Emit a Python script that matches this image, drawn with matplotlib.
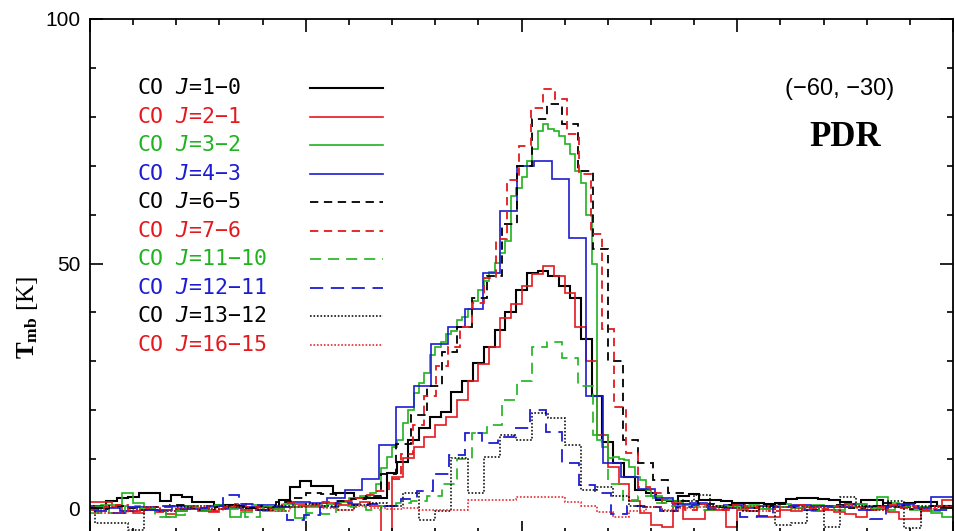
import numpy as np
import matplotlib
matplotlib.use('Agg')
import matplotlib.pyplot as plt
from matplotlib.ticker import MultipleLocator

plt.rcParams['font.family'] = ['Liberation Sans', 'DejaVu Sans']
plt.rcParams['mathtext.fontset'] = 'custom'
plt.rcParams['mathtext.rm'] = 'DejaVu Sans Mono'
plt.rcParams['mathtext.it'] = 'DejaVu Sans Mono:oblique'
plt.rcParams['mathtext.bf'] = 'Liberation Serif:bold'
plt.rcParams['lines.scale_dashes'] = False

# spectra: start velocity, channel width (km/s) and T_mb values (K)
co10_v0, co10_dv = -10.25, 0.5
co10 = [0.0, 0.3, 1.5, 2.0, 2.2, 3.0, 3.0, 1.4, 2.6, 2.2,
        1.2, 1.2, 0.6, 0.6, 0.2, 0.0, 0.3, 0.1, 1.6, 4.3,
        5.5, 4.5, 4.5, 3.0, 3.0, 2.0, 2.0, 2.0, 7.1, 9.4,
        13.9, 16.3, 18.6, 19.6, 23.7, 26.0, 29.6, 33.0, 36.5, 40.0,
        44.5, 48.0, 48.5, 47.5, 45.5, 43.0, 34.5, 23.0, 13.5, 9.2,
        6.3, 3.7, 3.0, 1.6,
        1.5, 2.5, 2.8, 1.6, 1.6, 1.4, 1.0, 1.0, 1.1, 0.9,
        1.0, 1.8, 2.0, 2.0, 1.9, 1.7, 1.2, 0.9, 1.6, 1.6,
        0.5, 0.4, 1.0, 1.3, 1.2, 0.4, 0.4, 0.4]

co21_v0, co21_dv = -10.0, 0.5
co21 = [1.2, 1.2, 0.2, -0.5, -1.0, -0.4, -0.6, -1.2, -0.5, 0.3,
        -0.5, -0.8, -0.2, 0.4, -0.3, 0.3, 0.5, -0.2, 0.2, 0.8,
        0.5, 0.4, 1.0, 0.6, 0.8, 1.2, 0.4, -6.5,
        6.3, 10.2, 12.5, 14.5, 17.0, 18.6, 22.0, 26.0, 29.5, 33.0,
        38.8, 41.8, 45.5, 47.8, 49.5, 47.5, 44.0, 37.0, 30.0, 15.0,
        8.4, 5.0, 1.5, -1.0, -3.5, -3.9,
        1.0, -2.2, -2.2, -0.4, -0.4, -3.9, -0.4, -0.6, -1.8, -1.8,
        -0.4, -0.5, 0.2, -0.6, -0.3, -0.8, -1.2, -1.8, -0.4, -0.2,
        -0.8, -2.2, -2.2, -0.6, 0.4, 1.6]

# CO 3-2 has finer channels across the line
co32_left_v0, co32_left_dv = -10.0, 0.5
co32_left = [-1.0, 0.6, 0.6, 3.0, 1.0, 0.0, -0.5, -1.8, -0.3, 0.4,
             -0.2, 0.3, 0.5, -1.8, -0.8, 0.6, -0.6, -0.2, 0.8, -2.0,
             0.3, 0.2, 0.8, 1.2, 2.0, 2.5]
co32_core_v0, co32_core_dv = 3.0, 0.25
co32_core = [3.0, 5.0, 8.2, 10.4, 12.5, 13.9, 17.3, 20.0, 23.5, 25.5,
             27.6, 31.2, 33.0, 34.0, 35.5, 36.3, 38.4, 39.0, 40.8, 42.4,
             44.5, 46.5, 48.2, 50.2, 52.2, 54.7, 63.9, 65.5, 67.6, 71.0,
             73.5, 77.1, 78.6, 77.6, 77.1, 76.1, 74.5, 72.4, 69.0, 66.5,
             60.0, 50.0, 14.0, 12.5, 10.2, 10.4, 10.0, 9.8, 8.4, 6.3,
             5.7, 3.7]
co32_right_v0, co32_right_dv = 16.0, 0.5
co32_right = [2.5, 1.6, 1.5, 0.6, 0.8, 0.3, 0.4, 0.2, 0.5, 0.3,
              -0.2, 0.4, 0.8, 0.0, 0.3, 0.6, 0.2, -0.3, 0.5, 0.8,
              0.4, 2.2, 1.0, 0.2, -0.4, 0.3, -1.0, -1.8]

co43_v0, co43_dv = -10.2, 0.8
co43 = [0.5, 0.0, -0.5, 0.2, -0.3, 0.4, -0.2, 0.5, 0.0, 0.3,
        0.6, 0.2, 1.2, 1.0, 2.0, 3.7, 6.0, 12.9, 20.6, 25.0,
        33.5, 37.0, 40.8, 48.0, 60.8, 70.0, 71.0, 67.3, 55.3, 23.0,
        9.2, 6.3, 4.0, 2.0, 0.8,
        1.0, 0.3, 0.6, 0.0, 0.4, 0.2, 0.7, 0.5, 0.2, 0.8,
        0.3, 0.5, 0.9, 0.1, 2.2, 2.2]

co65_v0, co65_dv = -10.5, 0.7
co65 = [0.3, -0.2, 0.5, 0.0, -0.4, 0.3, 0.6, 0.1, -0.3, 0.2,
        0.4, 0.0, 0.5, 1.2, 2.0, 3.0, 2.8, 1.5, 1.8, 2.5,
        7.0, 13.0, 19.0, 25.0, 32.0, 37.0, 43.0, 47.5, 58.0, 70.0,
        79.5, 82.7, 78.6, 69.0, 53.0, 30.0, 13.9, 9.3, 5.7, 3.0,
        1.5, 0.8, 0.3, 0.6, 0.0, 0.4, 0.9, 0.2, -0.3, 0.5,
        0.7, 0.1, 0.4, 1.0, 0.3, -0.2, 0.5, 0.2]

co76_v0, co76_dv = -10.45, 0.55
co76 = [0.4, -0.3, 0.2, 0.6, -0.5, 0.0, -0.8, 0.3, -0.2, 0.5,
        0.1, -0.6, 0.2, 0.8, 0.3, -0.3, 0.5, 1.0, 0.4, 0.6,
        1.2, 0.8, 1.5, 2.0, 2.6, 3.5,
        6.0, 11.0, 17.0, 23.0, 29.0, 33.0, 37.0, 42.0, 47.0, 55.0,
        67.0, 74.0, 81.8, 85.7, 83.7, 76.5, 68.4, 56.0, 36.7, 20.6,
        11.2, 4.3, 3.0, 1.0,
        0.5, -0.4, 0.8, 0.2, -0.3, 0.6, 0.0, 0.4, -0.5, 0.3,
        0.7, 0.1, -0.2, 0.5, 0.9, 0.2, -0.4, 0.3, 0.6, 0.0,
        0.4, -0.3, 0.5, 0.2]

co1110_v0, co1110_dv = -10.5, 0.7
co1110 = [-0.5, 0.2, -1.0, 0.5, 0.0, -1.8, -1.5, 0.3, -0.4, 0.6,
          -0.2, -1.8, 0.4, -0.6, 0.2, -1.0, -1.2, 0.5, 0.3, -0.4,
          0.5, 1.0, 1.5, 2.5, 5.0, 10.0, 15.3, 17.0, 22.0, 26.0,
          33.0, 34.0, 30.6, 25.0, 15.0, 5.0, 1.6, 2.5, 1.0,
          0.5, 0.2, -0.3, 0.4, 0.0, 0.6, -0.2, 0.3, 0.1, -0.5,
          0.4, 0.2, 0.8, 0.0, -0.3, 0.5, 0.3, -0.6, 0.1]

co1211_v0, co1211_dv = -10.6, 0.75
co1211 = [0.3, -0.5, -1.0, 0.2, -0.3, 0.5, -0.2, 0.0, 0.4, 2.6,
          0.8, -0.3, 0.2, -2.4, -1.5, 0.3, 1.0, 0.6, 0.8,
          0.5, 1.8, 3.5, 7.0, 10.8, 15.3, 13.3, 14.5, 16.3, 20.0,
          15.5, 9.2, 4.7, 3.0, -1.2, 0.5,
          0.2, -0.5, 0.3, 0.6, -0.2, 0.0, -1.8, -1.6, 0.3, 0.4,
          -0.3, 0.5, 0.2, -0.4, -2.2, 0.3, 0.6, 0.1, -0.3, 0.4]

co1312_v0, co1312_dv = -10.5, 0.75
co1312 = [0.5, -3.0, -3.0, -4.5, 0.3, -0.5, 0.2, 0.4, -0.2, 0.6,
          0.0, -0.3, 0.5, 0.2, 0.8, 0.4, -0.3, 0.6, 1.0,
          0.5, 3.0, -2.4, -0.5, 10.2, 3.0, 10.4, 15.0, 13.9, 19.4,
          18.4, 12.9, 3.7, 4.3, 2.5, 0.5,
          0.3, -0.5, 1.5, 2.6, 0.4, 0.0, -0.5, 0.2, -3.5, -3.0,
          0.3, -3.9, 2.2, 0.5, -0.3, 1.5, -4.0, 0.4, 0.2, -0.5]

co1615_v0, co1615_dv = -10.5, 0.75
co1615 = [0.3, -1.0, -1.0, -0.3, 0.2, -0.5, 0.0, 0.4, -0.2, 0.3,
          -0.4, 0.1, -0.6, 0.2, 0.5, 0.0, -0.3, 0.4, 0.1,
          -0.2, 0.0, -0.3, -0.3, -0.3, 1.6, 1.6, 1.6, 2.2, 2.2,
          2.2, 1.2, 0.5, -0.8, -1.8, -0.5,
          0.2, -0.4, 0.1, 0.3, -0.2, 0.0, 0.4, -0.5, 0.2, -0.1,
          0.3, -0.3, 0.5, 0.0, -0.4, 0.2, 0.1, -0.2, 0.3, 0.0]

labels = ['CO $J$=1\u22120', 'CO $J$=2\u22121', 'CO $J$=3\u22122', 'CO $J$=4\u22123',
          'CO $J$=6\u22125', 'CO $J$=7\u22126', 'CO $J$=11\u221210', 'CO $J$=12\u221211',
          'CO $J$=13\u221212', 'CO $J$=16\u221215']

red = '#e3191e'
green = '#1fb31f'
blue = '#1c1cd2'
colors = ['black', red, green, blue, 'black', red, green, blue, 'black', red]
styles = ['-', '-', '-', '-', (0, (6, 4)), (0, (6, 4)), (0, (8, 5)), (0, (9.5, 5.5)),
          (0, (1.2, 1.3)), (0, (1.2, 1.3))]
widths = [1.5, 1.2, 1.2, 1.2, 1.3, 1.3, 1.2, 1.3, 1.1, 1.1]


def channels(*segments):
    # join (v0, dv, values) pieces into one set of channel edges
    edges = []
    vals = []
    for v0, dv, v in segments:
        e = v0 + dv * np.arange(len(v) + 1)
        if edges:
            e = e[1:]
        edges.extend(e)
        vals.extend(v)
    return np.array(vals), np.array(edges)


spectra = [
    channels((co10_v0, co10_dv, co10)),
    channels((co21_v0, co21_dv, co21)),
    channels((co32_left_v0, co32_left_dv, co32_left),
             (co32_core_v0, co32_core_dv, co32_core),
             (co32_right_v0, co32_right_dv, co32_right)),
    channels((co43_v0, co43_dv, co43)),
    channels((co65_v0, co65_dv, co65)),
    channels((co76_v0, co76_dv, co76)),
    channels((co1110_v0, co1110_dv, co1110)),
    channels((co1211_v0, co1211_dv, co1211)),
    channels((co1312_v0, co1312_dv, co1312)),
    channels((co1615_v0, co1615_dv, co1615)),
]

fig = plt.figure(figsize=(9.55, 5.31), dpi=100)
ax = fig.add_axes([90 / 955, -3 / 531, 863 / 955, 515 / 531])

for (vals, edges), c, ls, lw in zip(spectra, colors, styles, widths):
    ax.stairs(vals, edges, color=c, linestyle=ls, linewidth=lw, baseline=None)

ax.set_xlim(-10, 30)
ax.set_ylim(-5.3, 100)
ax.xaxis.set_major_locator(MultipleLocator(10))
ax.xaxis.set_minor_locator(MultipleLocator(2))
ax.yaxis.set_major_locator(MultipleLocator(50))
ax.yaxis.set_minor_locator(MultipleLocator(10))
ax.tick_params(which='both', direction='in', top=True, right=True,
               labelbottom=False, width=1.2, labelsize=15, pad=7)
ax.tick_params(which='major', length=9.5)
ax.tick_params(which='minor', length=4.5)
for s in ax.spines.values():
    s.set_linewidth(1.3)

# legend drawn by hand: text on the left, line sample on the right
for i, (lab, c, ls, lw) in enumerate(zip(labels, colors, styles, widths)):
    y = (534 - (88 + 28.55 * i)) / 515
    ax.text(0.0545, y, lab, transform=ax.transAxes, color=c, fontsize=15.5,
            va='center', ha='left', family=['DejaVu Sans Mono', 'DejaVu Sans'])
    ax.plot([0.255, 0.34], [y, y], transform=ax.transAxes, color=c,
            linestyle=ls, linewidth=lw)

ax.text((840 - 90) / 863, (534 - 89) / 515, '(\u221260, \u221230)', transform=ax.transAxes,
        fontsize=17, ha='center', va='center')
ax.text((845 - 90) / 863, (534 - 137) / 515, 'PDR', transform=ax.transAxes,
        fontsize=25, ha='center', va='center', weight='bold', family='Liberation Serif')

fig.text(27 / 955, 1 - 318 / 531, r'$\mathbf{T_{mb}}$ [K]', rotation=90,
         ha='center', va='center', fontsize=18, family='Liberation Serif')

fig.savefig('out.png', dpi=100)
